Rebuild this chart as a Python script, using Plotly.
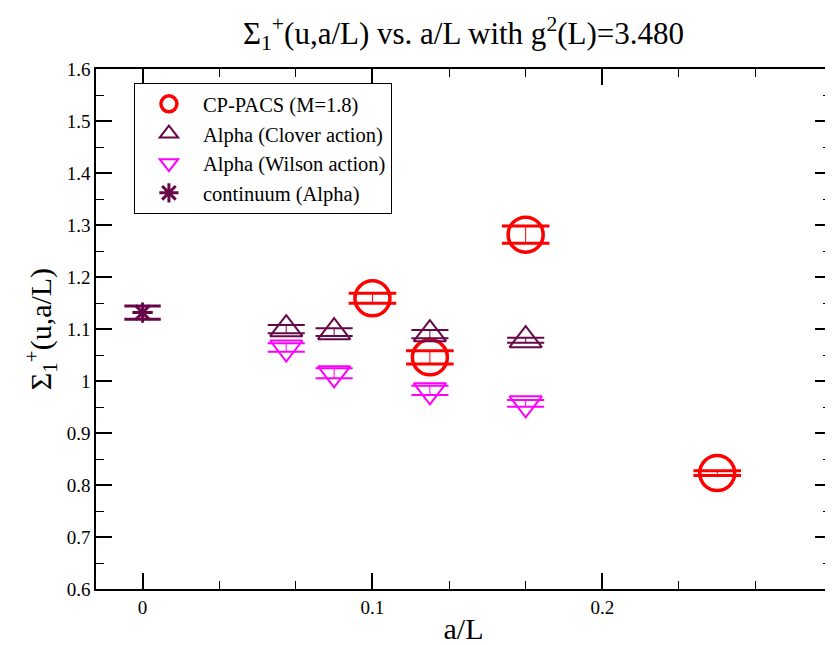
import plotly.graph_objects as go

# ---- data ----
cp_x = [0.1, 0.125, 1/6, 0.25]
cp_y = [1.159, 1.0455, 1.2814, 0.823]
cp_err = [0.0096, 0.0128, 0.0166, 0.0045]

clover_x = [1/16, 1/12, 1/8, 1/6]
clover_y = [1.0997, 1.0939, 1.0901, 1.0785]
clover_err = [0.008, 0.0074, 0.008, 0.0048]

wilson_x = [1/16, 1/12, 1/8, 1/6]
wilson_y = [1.0644, 1.0148, 0.982, 0.957]
wilson_err = [0.0081, 0.0096, 0.009, 0.0064]

cont_x = [0.0]
cont_y = [1.1315]
cont_err = [0.0128]

x_ticks = [0, 0.1, 0.2]
x_tick_labels = ["0", "0.1", "0.2"]

RED = "#ff0000"
MAROON = "#670748"
MAGENTA = "#ff00ff"
FONT = "Liberation Serif"

fig = go.Figure()


def add_series(name, xs, ys, errs, symbol, size, lw, color, cap_size, cap_lw):
    fig.add_trace(go.Scatter(
        x=xs, y=ys, mode="markers", name=name,
        marker=dict(symbol=symbol, size=size, color=color,
                    line=dict(color=color, width=lw)),
        error_y=dict(type="data", array=errs, visible=True,
                     thickness=1, width=0, color=color),
    ))
    cx = list(xs) + list(xs)
    cy = [y + e for y, e in zip(ys, errs)] + [y - e for y, e in zip(ys, errs)]
    fig.add_trace(go.Scatter(
        x=cx, y=cy, mode="markers", showlegend=False, hoverinfo="skip",
        marker=dict(symbol="line-ew", size=cap_size, color=color,
                    line=dict(color=color, width=cap_lw)),
    ))


add_series("CP-PACS (M=1.8)", cp_x, cp_y, cp_err, "circle-open", 35, 3.5, RED, 34, 3)
add_series("Alpha (Clover action)", clover_x, clover_y, clover_err, "triangle-up-open", 28, 2, MAROON, 26.5, 2)
add_series("Alpha (Wilson action)", wilson_x, wilson_y, wilson_err, "triangle-down-open", 28, 2, MAGENTA, 26.5, 2)
add_series("continuum (Alpha)", cont_x, cont_y, cont_err, "asterisk-open", 17, 3, MAROON, 26, 3)

fig.update_layout(
    width=825, height=637,
    margin=dict(l=88, r=0, t=61, b=56),
    paper_bgcolor="white", plot_bgcolor="white",
    font=dict(family=FONT, size=19, color="black"),
    title=dict(
        text="Σ<sub>1</sub><sup>+</sup>(u,a/L) vs. a/L with g<sup>2</sup>(L)=3.480",
        font=dict(family=FONT, size=31, color="black"),
        x=0.5, xref="paper", xanchor="center",
        y=1 - 25 / 637, yanchor="middle",
    ),
    legend=dict(
        x=0.0516, y=0.973, xanchor="left", yanchor="top",
        bgcolor="white", bordercolor="black", borderwidth=1,
        font=dict(family=FONT, size=20.5, color="black"),
        itemwidth=58, tracegroupgap=0,
    ),
    showlegend=True,
)

fig.update_xaxes(
    range=[-0.02026, 0.2995],
    tickvals=x_ticks, ticktext=x_tick_labels,
    ticks="inside", ticklen=16, tickwidth=1.5, tickcolor="black",
    minor=dict(dtick=0.1 / 3, tick0=0, ticks="inside", ticklen=8, tickwidth=1, tickcolor="black"),
    showline=True, linecolor="black", linewidth=1.5, mirror="allticks",
    showgrid=False, zeroline=False,
    tickfont=dict(family=FONT, size=19, color="black"),
    title=dict(text="a/L", font=dict(family=FONT, size=30, color="black"), standoff=2),
)

fig.update_yaxes(
    range=[0.6, 1.6], dtick=0.1, tick0=0,
    ticks="inside", ticklen=16, tickwidth=1.5, tickcolor="black",
    minor=dict(dtick=0.05, tick0=0, ticks="inside", ticklen=8, tickwidth=1, tickcolor="black"),
    showline=True, linecolor="black", linewidth=1.5, mirror="allticks",
    showgrid=False, zeroline=False,
    tickfont=dict(family=FONT, size=19, color="black"),
    title=dict(text="Σ<sub>1</sub><sup>+</sup>(u,a/L)",
               font=dict(family=FONT, size=30, color="black"), standoff=6),
)

fig.write_html("out.html")
